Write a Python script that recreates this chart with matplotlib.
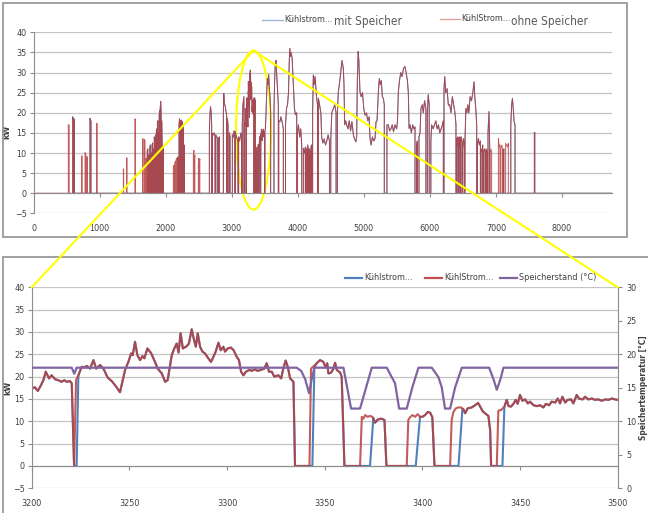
import numpy as np
import matplotlib
matplotlib.use('Agg')
import matplotlib.pyplot as plt
from matplotlib import font_manager
from matplotlib.lines import Line2D
from matplotlib.patches import Ellipse, Rectangle, ConnectionPatch

try:
    font_manager.findfont('Liberation Sans Narrow', fallback_to_default=False)
    schrift = ['Liberation Sans Narrow', 'DejaVu Sans']
except ValueError:
    schrift = ['DejaVu Sans']
plt.rcParams['font.family'] = schrift
plt.rcParams['font.stretch'] = 'condensed'

BLAU = '#4F81BD'
ROT = '#B8403E'
LILA = '#8064A2'
GRAU = '#404040'

# ---- Ausschnitt 3200-3500 h: Kuehlstrom ohne Speicher (kW)
ohne_h = [3200, 3201.7, 3203.1, 3204.3, 3206, 3207.2, 3208.9, 3210.2, 3212, 3213.6,
          3215.3, 3216.7, 3217.9, 3219.6, 3220.5, 3221.7, 3222.7, 3223.9, 3225.6, 3227,
          3228.2, 3229.9, 3231.6, 3233, 3235, 3236.7, 3238.9, 3241.3, 3243.5, 3245.2,
          3247.8, 3249.5, 3250.9, 3251.7, 3252.9, 3254.1, 3255.5, 3256.7, 3257.7, 3259.2,
          3261.1, 3263.1, 3264.5, 3266.6, 3268.3, 3269.6, 3271.7, 3273.0, 3274.2, 3275.2,
          3276.2, 3277.4, 3279.3, 3280.5, 3281.9, 3282.9, 3284, 3285, 3286.2, 3287.4,
          3288.7, 3290.4, 3291.8, 3293, 3294.2, 3295.6, 3296.8, 3298.1, 3299, 3300.3,
          3302, 3303.4, 3305, 3306.1, 3307.2, 3308.4, 3309.7, 3311.3, 3312.6, 3314.3,
          3315.7, 3317.4, 3319.1, 3320.3, 3321.5, 3322.9, 3324.2, 3326.3, 3327.7, 3328.8,
          3330, 3331.1, 3332.3, 3334, 3334.8, 3342.2, 3343, 3345.9, 3347.6, 3349.3,
          3350.5, 3351.3, 3351.9, 3353.3, 3354.5, 3355.3, 3356.2, 3357.9, 3358.7, 3360.1,
          3368.1, 3369, 3369.8, 3370.7, 3372, 3373.2, 3374.4, 3375.8, 3377.2, 3378.9,
          3380.6, 3381.6, 3392, 3392.8, 3393.7, 3394.9, 3396.3, 3397.6, 3398.8, 3400,
          3401.4, 3402.8, 3404, 3405.1, 3406.2, 3414.2, 3415, 3415.9, 3417.1, 3418.5,
          3419.8, 3421, 3421.9, 3423.2, 3425.3, 3427, 3428.5, 3429.6, 3430.8, 3432.1,
          3433.8, 3434.7, 3435.2, 3438.1, 3438.9, 3440.3, 3442, 3443.2, 3444.1, 3445.4,
          3446.6, 3447.8, 3448.8, 3450, 3451.2, 3452.6, 3454, 3455.1, 3456.9, 3458.6,
          3460.3, 3462, 3463.2, 3464.9, 3466.2, 3468, 3469.3, 3470.5, 3471.7, 3473.1,
          3474.4, 3476.1, 3477.3, 3479.0, 3480.2, 3482, 3483.3, 3485, 3486.7, 3488.4,
          3490.1, 3491.8, 3493.6, 3495.3, 3497, 3498.7, 3500]
ohne_kw = [17.4, 17.6, 16.8, 17.7, 19.2, 21.1, 19.6, 20.3, 19.4, 19.2,
           18.85, 19.2, 18.85, 19.0, 18.5, 0, 19.2, 20.3, 22.2, 22.1,
           22.4, 21.8, 23.7, 21.8, 22.6, 21.8, 19.8, 18.85, 17.6, 16.5,
           21.5, 23.3, 25.2, 24.8, 27.8, 24.8, 23.7, 24.6, 24.1, 26.3,
           25.3, 23.3, 21.8, 20.7, 18.85, 19.2, 24.8, 26.3, 27.4, 25.4,
           29.7, 26.3, 26.8, 27.4, 30.6, 28.6, 26.7, 29.7, 26.7, 25.6,
           25.2, 24.1, 23.3, 24.4, 25.6, 27.6, 25.9, 26.7, 25.6, 26.3,
           26.5, 25.9, 24.4, 23.7, 21.1, 20.3, 21.1, 21.5, 21.3, 21.6,
           21.3, 21.5, 21.8, 23.0, 21.1, 21.1, 20.0, 20.3, 19.6, 21.8,
           23.6, 22.2, 19.6, 18.85, 0, 0, 21.8, 23, 23.7, 23.3,
           22.1, 23.0, 20.7, 20.9, 21.8, 23.1, 21.5, 20.9, 20.0, 0,
           0, 11.0, 10.6, 11.4, 11.0, 11.2, 11.0, 9.7, 10.4, 10.6,
           10.3, 0, 0, 10.3, 10.9, 11.4, 11.0, 11.6, 11.0, 11.0,
           11.4, 12.1, 11.9, 10.9, 0, 0, 10.3, 12.1, 12.9, 13.1,
           13.1, 12.7, 11.8, 12.9, 13.1, 13.6, 14.1, 13.3, 12.3, 11.8,
           11.2, 8.0, 0, 0, 12.4, 12.5, 13.3, 14.8, 13.4, 13.3,
           13.9, 14.8, 13.9, 15.9, 14.6, 14.9, 14.0, 14.4, 13.6, 13.4,
           13.6, 13.1, 13.9, 13.6, 14.4, 14.2, 15.1, 14.0, 15.5, 14.2,
           14.8, 14.9, 14.0, 15.9, 15.1, 14.9, 15.5, 14.9, 15.1, 14.8,
           14.9, 14.6, 14.9, 14.8, 15.1, 14.9, 14.8]

# mit Speicher: Kaeltemaschine bleibt nach dem Abschalten laenger aus
mit_aus_h = [3221.7, 3334.8, 3360.1, 3381.6, 3406.2, 3435.2]
mit_an_h = [3223.0, 3343.7, 3373.2, 3396.6, 3418.5, 3441.0]
mit_wieder_h = [3223.9, 3344.7, 3374.9, 3398.8, 3420.5, 3442.0]
mit_wieder_kw = [20.3, 22.0, 10.8, 11.0, 12.8, 13.3]

# Speicherstand (Grad C)
speicher_h = [3200, 3220.5, 3221.8, 3223.0, 3335.7, 3338, 3340, 3342, 3343.3, 3344.7,
              3359.6, 3363.5, 3368.1, 3374.1, 3381.8, 3384.3, 3386, 3388.1, 3392, 3394.9,
              3398, 3404.8, 3408.2, 3409.9, 3411.6, 3414.2, 3416.8, 3420.2, 3434.2, 3436.5,
              3438.1, 3440, 3441.5, 3500]
speicher_c = [18, 18, 17.1, 18, 18, 17.5, 16.3, 14.2, 16.2, 18,
              18, 11.9, 11.9, 18, 18, 16.6, 15.7, 11.9, 11.9, 15.1,
              18, 18, 16.6, 15.1, 11.9, 11.9, 15.1, 18, 18, 16.2,
              14.7, 16.3, 18, 18]

# ---- Jahresverlauf: Betriebsphasen (Stunde, kW)
laeufe = [
    [(0, 4.2), (6, 4.0)],
    [(527, 17), (540, 17)],
    [(593, 19), (600, 18.5), (608, 17.5)],
    [(612, 18.5), (618, 17)],
    [(729, 9.3), (735, 9.3)],
    [(780, 10.2), (788, 9.8), (795, 9.5)],
    [(810, 9.1), (815, 9)],
    [(855, 18.6), (862, 18.3), (870, 17.8)],
    [(956, 17.4), (963, 17.2)],
    [(1360, 6), (1365, 6)],
    [(1410, 8.8), (1415, 8.8)],
    [(1536, 18.5), (1542, 18)],
    [(1652, 13.6), (1660, 13.4)],
    [(1680, 13.4), (1688, 13.0)],
    [(1703, 8.7), (1708, 8.5)],
    [(1722, 10.5), (1730, 11)],
    [(1745, 9.5), (1750, 9)],
    [(1762, 11.5), (1770, 12)],
    [(1780, 9.3), (1786, 10)],
    [(1795, 12), (1803, 12.5)],
    [(1812, 10.5), (1818, 11)],
    [(1828, 14), (1836, 13.5)],
    [(1845, 12.5), (1852, 14.5)],
    [(1860, 15.5), (1868, 16)],
    [(1876, 17.5), (1884, 18)],
    [(1892, 14), (1897, 15)],
    [(1903, 19.5), (1910, 20.5)],
    [(1918, 21), (1925, 22.8), (1932, 20)],
    [(1940, 18), (1946, 12)],
    [(1960, 11.5), (1965, 11)],
    [(2117, 6.6), (2125, 7)],
    [(2140, 7.5), (2148, 8)],
    [(2160, 8.5), (2170, 8.7)],
    [(2185, 9), (2192, 8)],
    [(2203, 17), (2210, 18.5), (2218, 16)],
    [(2228, 17.5), (2236, 18.2)],
    [(2245, 16.5), (2252, 17.8)],
    [(2262, 14), (2270, 16.5)],
    [(2278, 12), (2283, 11.5)],
    [(2420, 9.5), (2428, 10.7)],
    [(2437, 9), (2443, 9.5)],
    [(2495, 7.5), (2503, 8.7)],
    [(2512, 8), (2518, 8.5)],
    [(2662, 15), (2670, 19.4), (2680, 21.5), (2690, 19.9), (2697, 17)],
    [(2707, 14.9), (2720, 14.5), (2735, 15), (2748, 14)],
    [(2760, 14.5), (2775, 14), (2788, 13.5)],
    [(2800, 13.2), (2813, 14)],
    [(2874, 20), (2880, 24.8), (2890, 22), (2900, 21.9), (2912, 20.5), (2924, 19.4)],
    [(2935, 18.5), (2945, 17)],
    [(2965, 15), (2975, 14)],
    [(3010, 14.5), (3020, 13.8), (3035, 15.5), (3048, 14.5)],
    [(3055, 15.3), (3070, 14), (3085, 13.5), (3095, 12.5)],
    [(3105, 14), (3120, 13), (3140, 15), (3150, 14)],
    [(3160, 17), (3170, 22), (3185, 24)],
    [(3501, 15), (3510, 16), (3520, 20), (3530, 25), (3540, 28.5), (3550, 27),
     (3560, 29.5), (3570, 26), (3580, 24), (3590, 20)],
    [(3640, 20), (3650, 28), (3660, 31.9), (3670, 33), (3680, 30), (3695, 25), (3706, 22)],
    [(3712, 18), (3731, 17.8), (3745, 19), (3760, 18), (3782, 16)],
    [(3815, 17), (3830, 21.1), (3845, 22), (3860, 25), (3872, 33), (3880, 36),
     (3890, 34), (3900, 35), (3915, 33.5), (3925, 30), (3933, 27), (3950, 21.1),
     (3965, 19.5), (3984, 20)],
    [(3995, 15), (4010, 17), (4030, 14), (4045, 16), (4060, 12)],
    [(4085, 11.2), (4100, 10), (4115, 11.5)],
    [(4125, 10.5), (4140, 11.2)],
    [(4150, 12), (4165, 10.5)],
    [(4175, 11), (4190, 10)],
    [(4200, 11.5), (4210, 12)],
    [(4225, 20), (4236, 29.4), (4250, 27), (4262, 29), (4286, 23.6), (4300, 22)],
    [(4312, 23.6), (4330, 22), (4350, 20), (4362, 14), (4380, 12.5), (4400, 13.5),
     (4420, 12), (4440, 13), (4460, 14.5), (4480, 13)],
    [(4500, 13), (4515, 20), (4540, 21.1), (4560, 22), (4580, 20)],
    [(4600, 20), (4614, 25.2), (4630, 27), (4650, 30), (4670, 33), (4690, 31),
     (4700, 27), (4710, 17), (4725, 18), (4740, 17), (4760, 16), (4780, 18),
     (4800, 15.5), (4820, 17.8), (4842, 14.5), (4860, 13.5), (4880, 12.8),
     (4892, 14), (4902, 28), (4915, 35.2), (4925, 33), (4932, 30), (4942, 25.2),
     (4960, 24), (4980, 25), (5000, 21), (5018, 19.4), (5040, 20), (5060, 18),
     (5080, 19), (5094, 13.6), (5110, 12), (5130, 14), (5150, 13), (5170, 13.6),
     (5185, 17.8), (5200, 18), (5220, 25), (5235, 28.5), (5250, 27), (5265, 28),
     (5280, 24), (5296, 23.6), (5310, 22)],
    [(5350, 17), (5371, 17), (5390, 15.5), (5410, 16), (5430, 17), (5450, 15.3),
     (5470, 17), (5497, 16), (5510, 18), (5523, 25.2), (5540, 28), (5560, 30),
     (5580, 29), (5600, 31), (5623, 31.5), (5640, 30), (5660, 28), (5674, 25),
     (5685, 16.1), (5700, 17), (5720, 15), (5740, 17), (5760, 16), (5775, 16.5)],
    [(5800, 12), (5810, 13)],
    [(5835, 14), (5851, 15), (5865, 21.1), (5885, 22), (5900, 20), (5920, 23), (5940, 21)],
    [(5962, 20), (5975, 24.5), (5990, 22)],
    [(6015, 13), (6027, 17), (6050, 16), (6070, 17), (6090, 18), (6110, 16),
     (6130, 17), (6150, 15), (6170, 16), (6190, 17), (6204, 18)],
    [(6214, 26), (6225, 29), (6240, 25), (6260, 26), (6280, 21.9), (6300, 22),
     (6320, 20), (6340, 24), (6360, 22), (6380, 20), (6395, 17)],
    [(6405, 13.6), (6415, 12), (6425, 14)],
    [(6435, 11), (6445, 13.5), (6455, 14)],
    [(6462, 12), (6475, 14), (6485, 13)],
    [(6495, 11), (6510, 13.6), (6520, 12.5)],
    [(6532, 13.2), (6545, 21.1), (6560, 20), (6575, 22), (6590, 20), (6610, 24),
     (6630, 23), (6650, 25), (6668, 27.7), (6680, 24), (6695, 21), (6709, 17)],
    [(6720, 12), (6734, 13.6), (6750, 12), (6765, 13)],
    [(6775, 11), (6790, 10.3), (6800, 12)],
    [(6810, 10), (6825, 11), (6835, 10.3)],
    [(6850, 11), (6865, 10.5)],
    [(6880, 15), (6895, 20.3), (6905, 12)],
    [(6912, 10.3), (6925, 11), (6935, 10.3)],
    [(7037, 13.6), (7050, 11.5), (7060, 12)],
    [(7075, 11.2), (7090, 12), (7100, 11)],
    [(7112, 10.5), (7120, 11)],
    [(7147, 12.4), (7160, 12), (7175, 11.5), (7188, 12.4)],
    [(7225, 17), (7238, 22), (7250, 23.6), (7262, 21), (7275, 17.8), (7289, 17)],
    [(7582, 15.1), (7588, 15.1)],
]
# Phasen, die der Speicher allein abdeckt (nur ohne Speicher sichtbar)
nur_ohne = [0, 1, 4, 5, 6, 8, 9, 10, 11, 12, 13, 14, 30, 31, 32, 39, 40, 41, 42,
            84, 85, 86, 88]

x_ticks = list(range(0, 8001, 1000))
y_ticks = list(range(-5, 41, 5))
zoom_ticks = list(range(3200, 3501, 50))
temp_ticks = list(range(0, 31, 5))


def mit_speicher(h, kw):
    hh, kk = [], []
    for a, b in zip(h, kw):
        drin = any(s < a < w for s, w in zip(mit_aus_h, mit_wieder_h))
        if not drin:
            hh.append(a)
            kk.append(b)
    hh += mit_an_h + mit_wieder_h
    kk += [0] * len(mit_an_h) + mit_wieder_kw
    idx = np.argsort(hh, kind='stable')
    return np.array(hh)[idx], np.array(kk)[idx]


mit_h, mit_kw = mit_speicher(ohne_h, ohne_kw)


def jahr(ohne=True):
    hh, kk = [], []
    ausschnitt = (ohne_h, ohne_kw) if ohne else (mit_h, mit_kw)
    alle = [(run[0][0], list(run), i) for i, run in enumerate(laeufe)]
    alle.append((3200, list(zip(*ausschnitt)), -1))
    alle.sort(key=lambda r: r[0])
    for start, run, i in alle:
        if not ohne and i in nur_ohne:
            continue
        hh.append(run[0][0])
        kk.append(0)
        for a, b in run:
            hh.append(a)
            kk.append(b)
        hh.append(run[-1][0])
        kk.append(0)
    hh.append(8760)
    kk.append(0)
    return hh, kk


def achse_stil(ax):
    ax.set_ylim(-5, 40)
    ax.set_yticks(y_ticks)
    ax.yaxis.grid(True, color='#C4C4C4', lw=0.9)
    ax.set_axisbelow(True)
    for s in ['top', 'right']:
        ax.spines[s].set_visible(False)
    ax.spines['left'].set_color('#8C8C8C')
    ax.spines['bottom'].set_color('#8C8C8C')
    ax.spines['bottom'].set_position(('data', 0))
    ax.tick_params(axis='y', direction='out', length=3, color='#8C8C8C',
                   labelsize=6.5, labelcolor=GRAU, pad=2)
    ax.set_facecolor('none')


fig = plt.figure(figsize=(6.48, 5.13), dpi=100)
W, H = 648.0, 513.0

# Rahmen
fig.add_artist(Rectangle((3 / W, 1 - 237 / H), 624 / W, 234 / H, transform=fig.transFigure,
                         fill=False, ec='#9A9A9A', lw=1.3))
fig.add_artist(Rectangle((3 / W, -0.01), 1.0, 1 - 257 / H + 0.01, transform=fig.transFigure,
                         fill=False, ec='#9A9A9A', lw=1.3))

# ---- oben: ganzes Jahr
ax1 = fig.add_axes([33.5 / W, 1 - 213.4 / H, 578.7 / W, 181.1 / H])
achse_stil(ax1)
ax1.set_xlim(0, 8760)
ax1.set_xticks(x_ticks)
ax1.tick_params(axis='x', direction='out', length=3, color='#8C8C8C',
                labelsize=6.5, labelcolor=GRAU, pad=19)
jh, jk = jahr(False)
ax1.plot(jh, jk, color=BLAU, lw=0.7)
jh, jk = jahr(True)
ax1.plot(jh, jk, color=ROT, lw=0.7, alpha=0.85)
ax1.set_ylabel('kW', fontsize=6.5, fontweight='bold', color=GRAU)
ax1.yaxis.set_label_coords(-0.038, 0.45)

# Legende oben
fig.add_artist(Line2D([262 / W, 283 / W], [1 - 20 / H] * 2, color='#95B3D7', lw=0.9))
fig.text(284 / W, 1 - 20 / H, 'Kühlstrom...', fontsize=6.5, color=GRAU, va='center')
fig.text(334 / W, 1 - 22 / H, 'mit Speicher', fontsize=8.5, color='#595959', va='center')
fig.add_artist(Line2D([440 / W, 460 / W], [1 - 19 / H] * 2, color='#E29A98', lw=0.9))
fig.text(461 / W, 1 - 19 / H, 'KühlStrom...', fontsize=6.5, color=GRAU, va='center')
fig.text(511 / W, 1 - 22 / H, 'ohne Speicher', fontsize=8.5, color='#595959', va='center')

# ---- unten: Ausschnitt
ax2 = fig.add_axes([31.7 / W, 1 - 488.3 / H, 586 / W, 201 / H])
achse_stil(ax2)
ax2.set_xlim(3200, 3500)
ax2.set_xticks(zoom_ticks)
ax2.tick_params(axis='x', direction='out', length=3, color='#8C8C8C',
                labelsize=6.5, labelcolor=GRAU, pad=21)
ax2.plot(mit_h, mit_kw, color=BLAU, lw=1.5)
ax2.plot(ohne_h, ohne_kw, color=ROT, lw=1.5, alpha=0.85)
ax2.set_ylabel('kW', fontsize=6.5, fontweight='bold', color=GRAU)
ax2.yaxis.set_label_coords(-0.033, 0.5)

ax3 = ax2.twinx()
ax3.set_ylim(0, 30)
ax3.set_yticks(temp_ticks)
for s in ['top', 'left', 'bottom']:
    ax3.spines[s].set_visible(False)
ax3.spines['right'].set_color('#8C8C8C')
ax3.tick_params(axis='y', direction='out', length=3, color='#8C8C8C',
                labelsize=6.5, labelcolor=GRAU, pad=3)
ax3.plot(speicher_h, speicher_c, color=LILA, lw=1.6)
ax3.set_ylabel('Speichertemperatur [°C]', fontsize=6, fontweight='bold', color=GRAU)
ax3.yaxis.set_label_coords(1.036, 0.5)

# Legende unten
for x0, farbe, text in [(345, BLAU, 'Kühlstrom...'), (425, '#C0504D', 'KühlStrom...'),
                        (500, LILA, 'Speicherstand (°C)')]:
    fig.add_artist(Line2D([x0 / W, (x0 + 17) / W], [1 - 278 / H] * 2, color=farbe, lw=1.6))
    fig.text((x0 + 19) / W, 1 - 278 / H, text, fontsize=6.5, color=GRAU, va='center')

# gelbe Markierung
ax1.add_patch(Ellipse((3330, 15.7), 530, 39.5, fill=False, ec='#FFFF00', lw=1.5, clip_on=False))
for ziel in [(3200, 40), (3500, 40)]:
    con = ConnectionPatch(xyA=(3330, 35.45), coordsA=ax1.transData, xyB=ziel,
                          coordsB=ax2.transData, color='#FFFF00', lw=1.5)
    fig.add_artist(con)

fig.savefig('out.png', dpi=100, facecolor='white')
